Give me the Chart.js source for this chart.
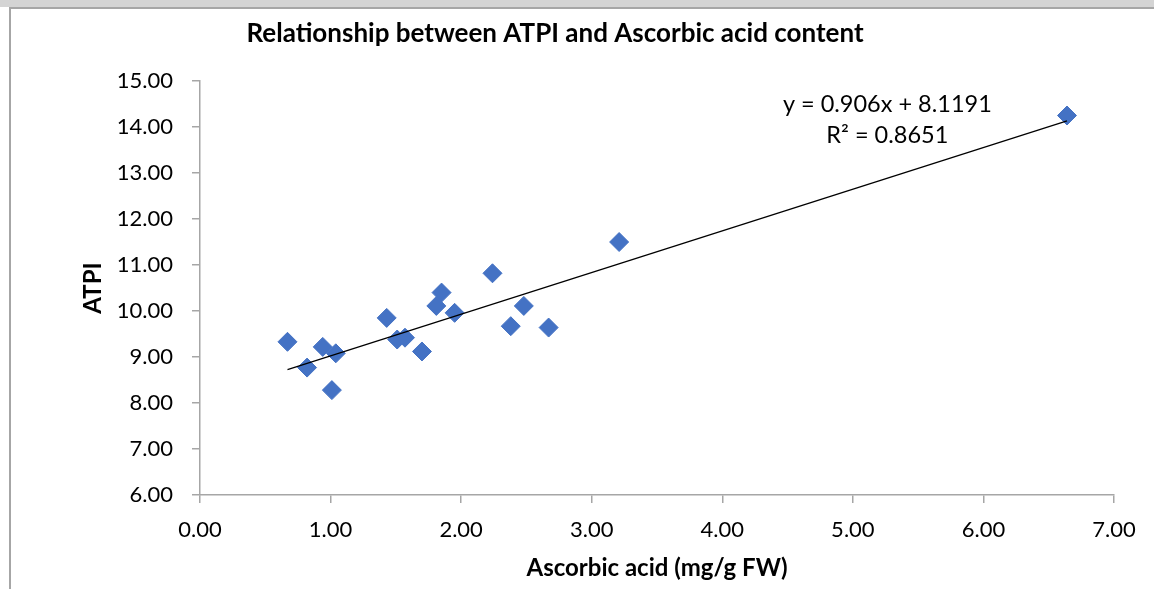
<!DOCTYPE html>
<html>
<head>
<meta charset="utf-8">
<script src="https://cdn.jsdelivr.net/npm/chart.js@4.4.1/dist/chart.umd.min.js"></script>
<style>
  html, body { margin: 0; padding: 0; background: #fff; }
  #strip { position: absolute; left: 0; top: 0; width: 1154px; height: 7px; background: #d4d4d4; }
  #frame { position: absolute; left: 9px; top: 7px; width: 1145px; height: 582px;
           border-left: 2px solid #a6a6a6; border-top: 2px solid #a6a6a6; box-sizing: border-box; }
  #wrap { position: absolute; left: 0; top: 0; width: 1154px; height: 589px; }
</style>
</head>
<body>
<div id="strip"></div>
<div id="frame"></div>
<div id="wrap"><canvas id="atpiChart"></canvas></div>
<script>
const ascorbicAcid = [0.67, 0.82, 0.94, 1.04, 1.01, 1.43, 1.51, 1.57, 1.70, 1.81, 1.85, 1.95, 2.24, 2.38, 2.48, 2.67, 3.21, 6.64];
const atpi        = [9.33, 8.77, 9.22, 9.08, 8.28, 9.85, 9.38, 9.42, 9.12, 10.11, 10.40, 9.96, 10.82, 9.67, 10.11, 9.64, 11.50, 14.25];

const trendSlope = 0.906;
const trendIntercept = 8.1191;
const rSquared = 0.8651;

const xTicks = [0, 1, 2, 3, 4, 5, 6, 7];
const yTicks = [6, 7, 8, 9, 10, 11, 12, 13, 14, 15];

const chartTitle = 'Relationship between ATPI and Ascorbic acid content';
const xTitle = 'Ascorbic acid (mg/g FW)';
const yTitle = 'ATPI';

const FONT = 'Lato';

const xMin = Math.min(...ascorbicAcid);
const xMax = Math.max(...ascorbicAcid);
const trendPoints = [xMin, xMax].map(x => ({ x: x, y: trendSlope * x + trendIntercept }));

const textPlugin = {
  id: 'textPlugin',
  afterDraw(chart) {
    const c = chart.ctx;
    const area = chart.chartArea;
    c.save();
    c.fillStyle = '#000';
    c.textAlign = 'center';
    c.textBaseline = 'middle';
    c.font = 'bold 26px ' + FONT;
    c.fillText(chartTitle, area.left + 355, area.top - 47);

    c.font = '23.5px ' + FONT;
    const ex = area.left + (area.right - area.left) * 0.752;
    c.fillText('y = ' + trendSlope + 'x + ' + trendIntercept, ex, area.top + 23);
    c.fillText('R² = ' + rSquared, ex, area.top + 54);
    c.restore();
  }
};

const ctx = document.getElementById('atpiChart').getContext('2d');
const atpiChart = new Chart(ctx, {
  type: 'scatter',
  data: {
    datasets: [{
      label: 'ATPI',
      data: ascorbicAcid.map((x, i) => ({ x: x, y: atpi[i] })),
      pointStyle: 'rectRot',
      pointRadius: 9.5,
      backgroundColor: '#4472C4',
      borderColor: '#4472C4',
      borderWidth: 1,
      order: 2
    }, {
      type: 'line',
      label: 'Linear',
      data: trendPoints,
      borderColor: '#000',
      borderWidth: 1.3,
      pointRadius: 0,
      fill: false,
      order: 1
    }]
  },
  options: {
    responsive: true,
    maintainAspectRatio: false,
    animation: false,
    layout: {
      padding: { left: 79, top: 81, right: 40, bottom: 0 }
    },
    plugins: {
      legend: { display: false },
      title: { display: false },
      tooltip: { enabled: false }
    },
    scales: {
      x: {
        type: 'linear',
        min: 0,
        max: 7,
        afterBuildTicks: (scale) => { scale.ticks = xTicks.map(v => ({ value: v })); },
        afterFit: (scale) => { scale.height = 94; },
        border: { color: '#a6a6a6', width: 1.5 },
        grid: { drawOnChartArea: false, drawTicks: true, tickLength: 8, color: '#a6a6a6', lineWidth: 1.5 },
        ticks: {
          color: '#000',
          padding: 14,
          font: { family: FONT, size: 22 },
          callback: (v) => Number(v).toFixed(2)
        },
        title: {
          display: true,
          text: xTitle,
          color: '#000',
          padding: { top: 0, bottom: 6 },
          font: { family: FONT, size: 24, weight: 'bold' }
        }
      },
      y: {
        type: 'linear',
        min: 6,
        max: 15,
        afterBuildTicks: (scale) => { scale.ticks = yTicks.map(v => ({ value: v })); },
        afterFit: (scale) => { scale.width = 121; },
        border: { color: '#a6a6a6', width: 1.5 },
        grid: { drawOnChartArea: false, drawTicks: true, tickLength: 8, color: '#a6a6a6', lineWidth: 1.5 },
        ticks: {
          color: '#000',
          padding: 19,
          font: { family: FONT, size: 22 },
          callback: (v) => Number(v).toFixed(2)
        },
        title: {
          display: true,
          text: yTitle,
          color: '#000',
          padding: 0,
          font: { family: FONT, size: 24, weight: 'bold' }
        }
      }
    }
  },
  plugins: [textPlugin]
});
</script>
</body>
</html>
